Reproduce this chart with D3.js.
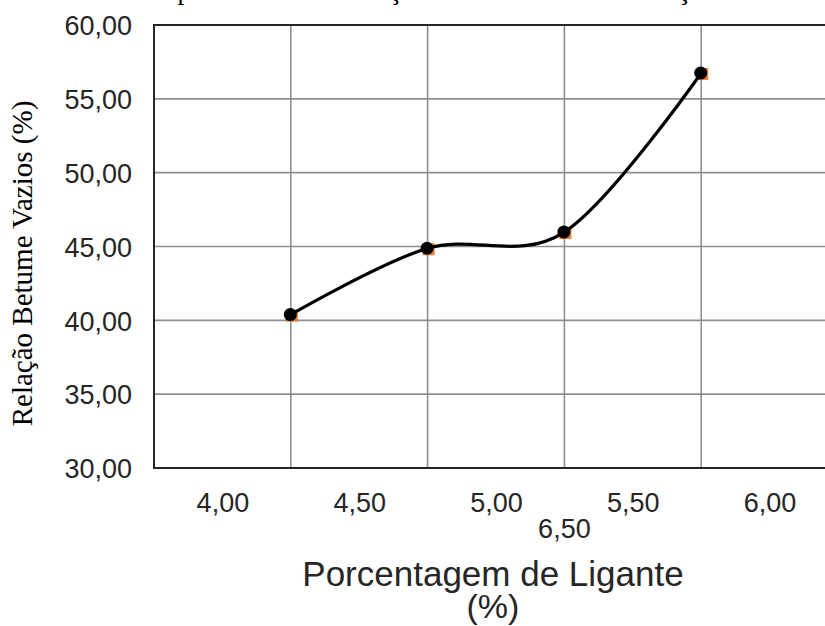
<!DOCTYPE html>
<html>
<head>
<meta charset="utf-8">
<script src="https://cdn.jsdelivr.net/npm/d3@7"></script>
<style>
    html, body { margin: 0; padding: 0; background: #fff; }
    svg { display: block; }
</style>
</head>
<body>
<svg id="chart" width="825" height="626"></svg>
<script>
// data
const ligante = [4.5, 5.0, 5.5, 6.0]
const rbv = [40.39, 44.88, 45.98, 56.75]
const xTickValues = [4.0, 4.5, 5.0, 5.5, 6.0]
const xTickLabels = ["4,00", "4,50", "5,00", "5,50", "6,00"]
const xWrappedValue = 5.5
const xWrappedLabel = "6,50"
const yTickValues = [30, 35, 40, 45, 50, 55, 60]
const gridX = [4.5, 5.0, 5.5, 6.0]
const titleText = "Gráfico 4: Comportamento da Relação Betume Vazios em função do teor de ligante"

const svg = d3.select("#chart")
const plot = { left: 154, right: 838, top: 25, bottom: 468 }

const x = d3.scaleLinear().domain([4.0, 6.5]).range([plot.left, plot.right])
const y = d3.scaleLinear().domain([30, 60]).range([plot.bottom, plot.top])
const step = x(4.5) - x(4.0)
const fmt = (v) => d3.format(".2f")(v).replace(".", ",")

// caption of the document, cut off at the top edge in the source
svg.append("text")
    .attr("x", 8)
    .attr("y", -1)
    .attr("font-family", "Liberation Serif, Times New Roman, serif")
    .attr("font-size", 27)
    .attr("fill", "#000")
    .text(titleText)

// grid
svg.append("g")
    .selectAll("line")
    .data(yTickValues.filter((v) => v > 30 && v < 60))
    .join("line")
    .attr("x1", plot.left)
    .attr("x2", plot.right)
    .attr("y1", (d) => y(d))
    .attr("y2", (d) => y(d))
    .attr("stroke", "#8f8f8f")
    .attr("stroke-width", 1.6)

svg.append("g")
    .selectAll("line")
    .data(gridX)
    .join("line")
    .attr("x1", (d) => x(d))
    .attr("x2", (d) => x(d))
    .attr("y1", plot.top)
    .attr("y2", plot.bottom)
    .attr("stroke", "#8f8f8f")
    .attr("stroke-width", 1.6)

// frame: top, left, bottom
svg.append("path")
    .attr("d", `M${plot.right},${plot.top}H${plot.left}V${plot.bottom}H${plot.right}`)
    .attr("fill", "none")
    .attr("stroke", "#262626")
    .attr("stroke-width", 2)

// y axis labels
const yAxis = svg.append("g")
    .attr("transform", `translate(${plot.left - 22},0)`)
    .call(d3.axisLeft(y).tickValues(yTickValues).tickFormat(fmt).tickSize(0).tickPadding(0))
yAxis.select(".domain").remove()
yAxis.selectAll("text")
    .attr("font-family", "Liberation Sans, Arial, sans-serif")
    .attr("font-size", 27)
    .attr("fill", "#262626")
    .attr("dy", "0.36em")

// x axis labels, centred between gridlines like the source
const xAxis = svg.append("g")
    .attr("transform", `translate(${step / 2},${plot.bottom})`)
    .call(d3.axisBottom(x).tickValues(xTickValues).tickFormat((d, i) => xTickLabels[i]).tickSize(0).tickPadding(0))
xAxis.select(".domain").remove()
xAxis.selectAll("text")
    .attr("font-family", "Liberation Sans, Arial, sans-serif")
    .attr("font-size", 27)
    .attr("fill", "#262626")
    .attr("dy", null)
    .attr("y", 44)

svg.append("text")
    .attr("x", x(xWrappedValue))
    .attr("y", 538)
    .attr("text-anchor", "middle")
    .attr("font-family", "Liberation Sans, Arial, sans-serif")
    .attr("font-size", 27)
    .attr("fill", "#262626")
    .text(xWrappedLabel)

// axis titles
svg.append("text")
    .attr("x", 493)
    .attr("y", 586)
    .attr("text-anchor", "middle")
    .attr("font-family", "Liberation Sans, Arial, sans-serif")
    .attr("font-size", 35)
    .attr("fill", "#262626")
    .text("Porcentagem de Ligante")

svg.append("text")
    .attr("x", 493)
    .attr("y", 618)
    .attr("text-anchor", "middle")
    .attr("font-family", "Liberation Sans, Arial, sans-serif")
    .attr("font-size", 34)
    .attr("fill", "#262626")
    .text("(%)")

svg.append("text")
    .attr("transform", `translate(32,${(97 + 430) / 2}) rotate(-90)`)
    .attr("text-anchor", "middle")
    .attr("font-family", "Liberation Serif, Times New Roman, serif")
    .attr("font-size", 29)
    .attr("fill", "#000")
    .text("Relação Betume Vazios (%)")

// series
const points = ligante.map((l, i) => ({ ligante: l, rbv: rbv[i] }))

svg.append("g")
    .selectAll("rect")
    .data(points)
    .join("rect")
    .attr("x", (d) => x(d.ligante) - 5)
    .attr("y", (d) => y(d.rbv) - 5)
    .attr("width", 12)
    .attr("height", 12)
    .attr("fill", "#ed7d31")

const line = d3.line()
    .x((d) => x(d.ligante))
    .y((d) => y(d.rbv))
    .curve(d3.curveCardinal.tension(0))

svg.append("path")
    .datum(points)
    .attr("fill", "none")
    .attr("stroke", "#000")
    .attr("stroke-width", 3.2)
    .attr("d", line)

svg.append("g")
    .selectAll("circle")
    .data(points)
    .join("circle")
    .attr("cx", (d) => x(d.ligante) - 0.5)
    .attr("cy", (d) => y(d.rbv))
    .attr("r", 6.5)
    .attr("fill", "#000")
</script>
</body>
</html>
